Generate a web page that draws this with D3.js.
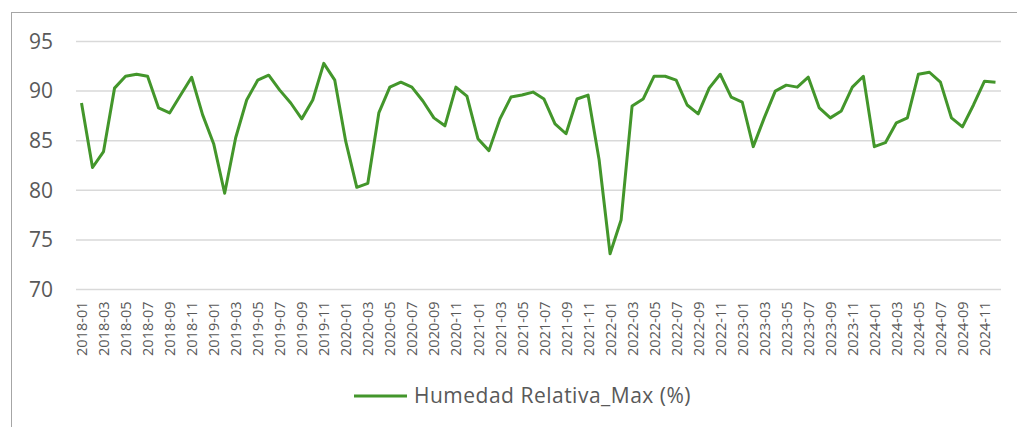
<!DOCTYPE html>
<html>
<head>
<meta charset="utf-8">
<script src="https://cdn.jsdelivr.net/npm/d3@7"></script>
<style>
  body { margin: 0; background: #fff; }
  svg { display: block; font-family: 'Open Sans', sans-serif; }
</style>
</head>
<body>
<div id="chart"></div>
<script>
const years = [2018, 2019, 2020, 2021, 2022, 2023, 2024];
const monthNums = ['01', '02', '03', '04', '05', '06', '07', '08', '09', '10', '11', '12'];
const months = years.flatMap((y) => monthNums.map((m) => y + '-' + m));

// Humedad Relativa_Max (%) por mes, 2018-01 .. 2024-12
const humedadMax = [
  88.8, 82.3, 83.9, 90.3, 91.5, 91.7, 91.5, 88.3, 87.8, 89.6, 91.4, 87.6,
  84.7, 79.7, 85.3, 89.1, 91.1, 91.6, 90.1, 88.8, 87.2, 89.1, 92.8, 91.1,
  84.9, 80.3, 80.7, 87.8, 90.4, 90.9, 90.4, 89.0, 87.3, 86.5, 90.4, 89.5,
  85.2, 84.0, 87.2, 89.4, 89.6, 89.9, 89.2, 86.7, 85.7, 89.2, 89.6, 83.1,
  73.6, 77.0, 88.5, 89.2, 91.5, 91.5, 91.1, 88.6, 87.7, 90.3, 91.7, 89.4,
  88.9, 84.4, 87.3, 90.0, 90.6, 90.4, 91.4, 88.3, 87.3, 88.0, 90.4, 91.5,
  84.4, 84.8, 86.8, 87.3, 91.7, 91.9, 90.9, 87.3, 86.4, 88.6, 91.0, 90.9
];
const yTicks = [70, 75, 80, 85, 90, 95];
const seriesName = 'Humedad Relativa_Max (%)';

const width = 1017, height = 427;
const plot = { left: 76, right: 1001, top: 41.5, bottom: 289.5 };
const green = '#43962b';
const textColor = '#595959';

const svg = d3.select('#chart').append('svg')
  .attr('width', width)
  .attr('height', height);

// chart frame (cut off at right and bottom in the original)
svg.append('rect')
  .attr('x', 11.5).attr('y', 12.5)
  .attr('width', 1100).attr('height', 500)
  .attr('fill', 'none')
  .attr('stroke', '#a6a6a6')
  .attr('stroke-width', 1);

const x = d3.scalePoint().domain(months).range([plot.left, plot.right]).padding(0.5);
const y = d3.scaleLinear().domain([70, 95]).range([plot.bottom, plot.top]);

// gridlines
svg.append('g')
  .selectAll('line')
  .data(yTicks)
  .join('line')
  .attr('x1', plot.left).attr('x2', plot.right)
  .attr('y1', (d) => y(d)).attr('y2', (d) => y(d))
  .attr('stroke', '#d9d9d9')
  .attr('stroke-width', 1.5);

// y axis labels
const yAxis = d3.axisLeft(y).tickValues(yTicks).tickSize(0).tickPadding(0);
const gy = svg.append('g')
  .attr('transform', 'translate(53,0)')
  .call(yAxis);
gy.select('.domain').remove();
gy.selectAll('text')
  .attr('fill', textColor)
  .attr('font-size', 21)
  .attr('font-family', "'Open Sans', sans-serif");

// x axis labels (every second month)
const xAxis = d3.axisBottom(x)
  .tickValues(months.filter((d, i) => i % 2 === 0))
  .tickSize(0);
const gx = svg.append('g')
  .attr('transform', 'translate(0,' + plot.bottom + ')')
  .call(xAxis);
gx.select('.domain').remove();
gx.selectAll('text')
  .attr('fill', textColor)
  .attr('font-size', 14.5)
  .attr('font-family', "'Open Sans', sans-serif")
  .attr('transform', 'rotate(-90)')
  .attr('text-anchor', 'end')
  .attr('dy', '0.35em')
  .attr('x', -12)
  .attr('y', 0);

// line
const line = d3.line()
  .x((d, i) => x(months[i]))
  .y((d) => y(d));

svg.append('path')
  .datum(humedadMax)
  .attr('fill', 'none')
  .attr('stroke', green)
  .attr('stroke-width', 3)
  .attr('stroke-linejoin', 'round')
  .attr('d', line);

// legend
const legend = svg.append('g').attr('transform', 'translate(354,396)');
legend.append('line')
  .attr('x1', 0).attr('x2', 53)
  .attr('y1', 0).attr('y2', 0)
  .attr('stroke', green)
  .attr('stroke-width', 3);
legend.append('text')
  .attr('x', 60)
  .attr('y', 0)
  .attr('dy', '0.35em')
  .attr('fill', textColor)
  .attr('font-size', 21)
  .attr('letter-spacing', 0.5)
  .text(seriesName);
</script>
</body>
</html>
